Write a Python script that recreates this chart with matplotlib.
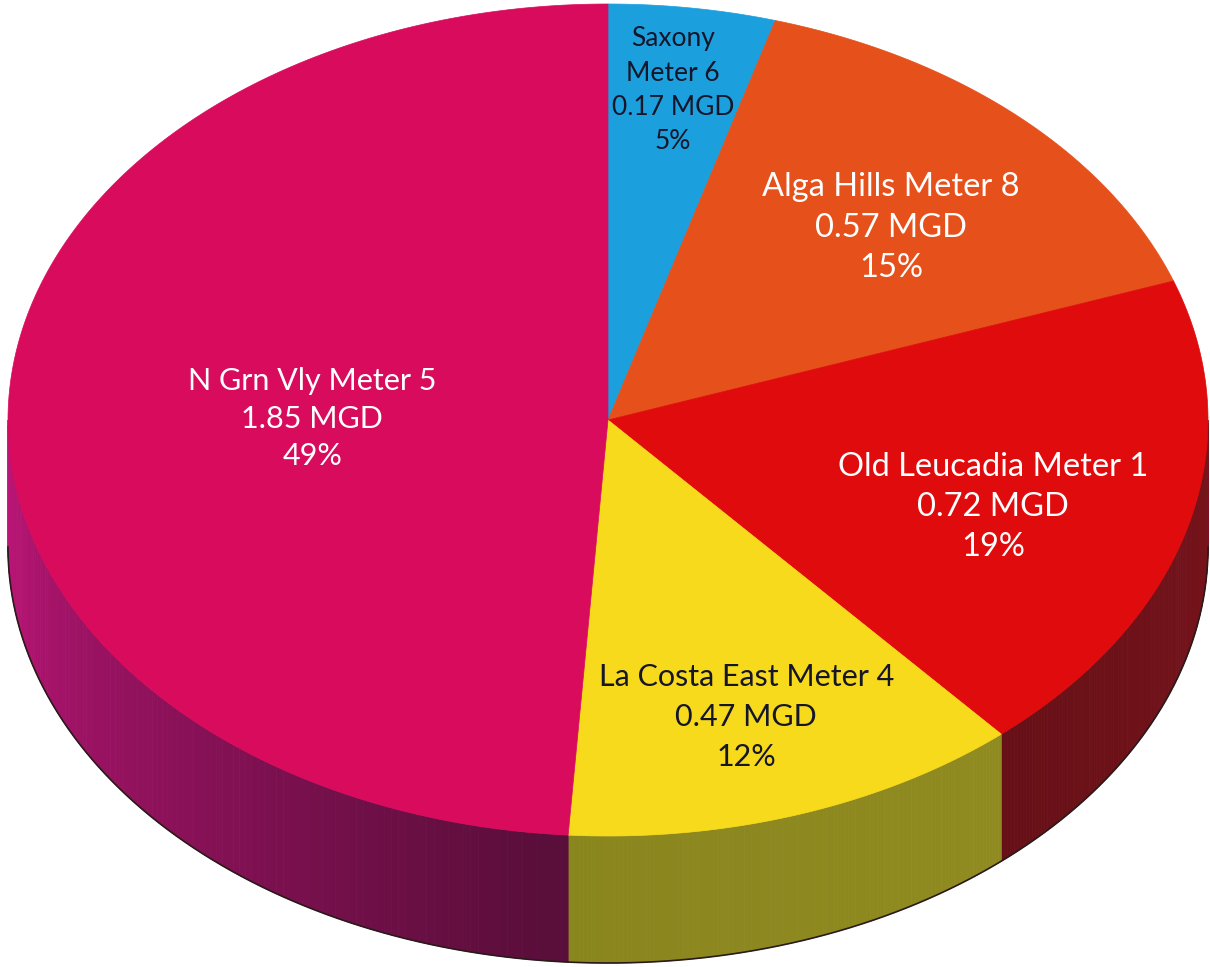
import matplotlib.pyplot as plt
import numpy as np
from matplotlib.colors import to_rgb
from matplotlib.patches import Polygon

# meter flows (MGD), clockwise from 12 o'clock
meters = ["Saxony\nMeter 6", "Alga Hills Meter 8", "Old Leucadia Meter 1",
          "La Costa East Meter 4", "N Grn Vly Meter 5"]
mgd = [0.17, 0.57, 0.72, 0.47, 1.85]
pct = [5, 15, 19, 12, 49]

top_colors = ["#1ca0dd", "#e5501b", "#e00b0c", "#f8da1c", "#d80b5d"]
# side wall colours: (light end, dark end)
side_colors = [("#1478a8", "#1478a8"), ("#a83a14", "#a83a14"),
               ("#78131b", "#671017"), ("#908b20", "#8a861e"),
               ("#c0157a", "#5a0e3a")]
text_colors = ["#16162a", "white", "white", "#16162a", "white"]
# label anchors: (radius fraction, angle clockwise from top)
label_at = [(0.80, 7.8), (0.66, 45.6), (0.675, 108.0), (0.75, 162.1), (0.493, 270.3)]
label_size = [19, 23.5, 23.5, 22, 22]
label_spacing = [1.47, 1.44, 1.42, 1.52, 1.41]

# ellipse geometry in pixel coordinates
cx, cy, a, b, depth = 608, 420, 600, 416, 127


def pt(t, r=1.0):
    t = np.radians(t)
    return cx + r * a * np.sin(t), cy - r * b * np.cos(t)


fig = plt.figure(figsize=(12.1, 9.67), dpi=100)
ax = fig.add_axes([0, 0, 1, 1])
ax.set_xlim(0, 1210)
ax.set_ylim(967, 0)
ax.axis("off")

total = sum(mgd)
bounds = np.concatenate([[0], np.cumsum(mgd) / total * 360])

# side walls, only the front half (90..270 deg) shows
for i in range(len(mgd)):
    t0, t1 = max(bounds[i], 90), min(bounds[i + 1], 270)
    if t1 <= t0:
        continue
    light, dark = np.array(to_rgb(side_colors[i][0])), np.array(to_rgb(side_colors[i][1]))
    ts = np.linspace(t0, t1, 120)
    for j in range(len(ts) - 1):
        x0, y0 = pt(ts[j])
        x1, y1 = pt(ts[j + 1])
        # shade by angle: lighter towards the left edge
        f = np.clip((270 - ts[j]) / (270 - 186), 0, 1) if i == 4 else (ts[j] - t0) / (t1 - t0)
        c = light * (1 - f) + dark * f
        ax.add_patch(Polygon([(x0, y0), (x1, y1), (x1, y1 + depth), (x0, y0 + depth)],
                             closed=True, facecolor=c, edgecolor=c, lw=0.6))

# outline along the bottom of the wall
ts = np.linspace(90, 270, 300)
xs, ys = zip(*[pt(t) for t in ts])
ax.plot(xs, np.array(ys) + depth, color="#2a1a1a", lw=1.2)

# top face wedges
for i in range(len(mgd)):
    ts = np.linspace(bounds[i], bounds[i + 1], 200)
    verts = [(cx, cy)] + [pt(t) for t in ts]
    ax.add_patch(Polygon(verts, closed=True, facecolor=top_colors[i],
                         edgecolor=top_colors[i], lw=0.5))

# data labels
for i in range(len(mgd)):
    x, y = pt(label_at[i][1], label_at[i][0])
    ax.text(x, y, f"{meters[i]}\n{mgd[i]:.2f} MGD\n{pct[i]}%", ha="center", va="center",
            fontsize=label_size[i], color=text_colors[i], family="Lato",
            linespacing=label_spacing[i])

fig.savefig("out.png", dpi=100)
